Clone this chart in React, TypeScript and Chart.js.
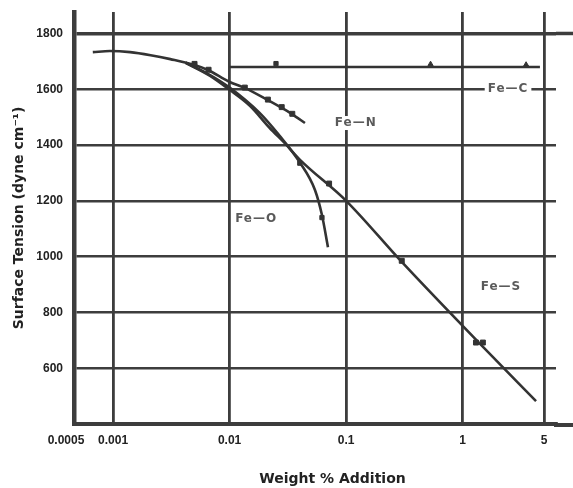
import React, { useEffect, useRef } from 'react';
import { Chart, registerables } from 'chart.js';

Chart.register(...registerables);

// ---- axis ticks ----
const xTickValues = [0.0005, 0.001, 0.01, 0.1, 1, 5];
const xTickLabels = ['0.0005\u2002\u2002\u2002\u2002', '0.001', '0.01', '0.1', '1', '5'];
const yTickValues = [600, 800, 1000, 1200, 1400, 1600, 1800];

// ---- Fe-N ----
const feNCurveX = [0.00067, 0.00094, 0.0014, 0.0021, 0.0031, 0.005, 0.0065, 0.0099, 0.0136, 0.0213, 0.0281, 0.0343, 0.0443];
const feNCurveY = [1733, 1737, 1733, 1722, 1708, 1687, 1669, 1627, 1604, 1561, 1533, 1511, 1479];
const feNPointX = [0.005, 0.0066, 0.0135, 0.0213, 0.028, 0.0345];
const feNPointY = [1691, 1670, 1606, 1563, 1536, 1512];

// ---- Fe-S ----
const feSCurveX = [0.0042, 0.0068, 0.01, 0.015, 0.022, 0.03, 0.04, 0.1, 0.3, 1.41, 4.26];
const feSCurveY = [1695, 1648, 1598, 1540, 1462, 1405, 1348, 1200, 981, 687, 482];
const feSPointX = [0.0714, 0.3, 1.3, 1.49];
const feSPointY = [1262, 985, 692, 692];

// ---- Fe-O ----
const feOCurveX = [0.0042, 0.0068, 0.01, 0.018, 0.027, 0.04, 0.054, 0.062, 0.0698];
const feOCurveY = [1695, 1651, 1606, 1516, 1432, 1338, 1239, 1149, 1034];
const feOPointX = [0.04, 0.062];
const feOPointY = [1335, 1140];

// ---- Fe-C ----
const feCCurveX = [0.01, 4.6];
const feCCurveY = [1680, 1680];
const feCPointX = [0.025, 0.53, 3.5];
const feCPointY = [1692, 1690, 1688];
const feCPointStyles = ['rect', 'triangle', 'triangle'];

// ---- curve labels (anchored in data space) ----
const seriesLabelText = ['Fe\u2014C', 'Fe\u2014N', 'Fe\u2014O', 'Fe\u2014S'];
const seriesLabelX = [2.45, 0.121, 0.0169, 2.13];
const seriesLabelY = [1600, 1479, 1135, 891];

const zip = (xs: number[], ys: number[]) => xs.map((x, i) => ({ x, y: ys[i] }));

const INK = '#333333';
const GRID = '#3d3d3d';
const TITLE_FONT = '"DejaVu Sans", "Liberation Sans", sans-serif';

export default function App() {
  const ref = useRef<HTMLCanvasElement | null>(null);

  useEffect(() => {
    if (!ref.current) return;
    Chart.defaults.font.family = '"Liberation Sans", Arial, sans-serif';

    const lineDs = (label: string, xs: number[], ys: number[]) => ({
      label,
      data: zip(xs, ys),
      showLine: true,
      borderColor: INK,
      borderWidth: 2.6,
      pointRadius: 0,
      cubicInterpolationMode: 'monotone' as const,
      fill: false,
    });
    const pointDs = (label: string, xs: number[], ys: number[], style: any, r: number) => ({
      label,
      data: zip(xs, ys),
      showLine: false,
      pointStyle: style,
      pointRadius: r,
      backgroundColor: INK,
      borderColor: INK,
      borderWidth: 1,
    });

    const labelPlugin = {
      id: 'seriesLabels',
      afterDatasetsDraw(chart: any) {
        const { ctx, scales } = chart;
        ctx.save();
        ctx.font = 'bold 12px "DejaVu Sans", sans-serif';
        try { (ctx as any).letterSpacing = '1px'; } catch (e) { /* ignore */ }
        ctx.textAlign = 'center';
        ctx.textBaseline = 'middle';
        seriesLabelText.forEach((t, i) => {
          const px = scales.x.getPixelForValue(seriesLabelX[i]);
          const py = scales.y.getPixelForValue(seriesLabelY[i]);
          const w = ctx.measureText(t).width;
          ctx.fillStyle = '#ffffff';
          ctx.fillRect(px - w / 2 - 3, py - 7, w + 6, 14);
          ctx.fillStyle = '#5a5a5a';
          ctx.fillText(t, px, py);
        });
        ctx.restore();
      },
    };

    const extendPlugin = {
      id: 'extendLines',
      afterDraw(chart: any) {
        const { ctx, chartArea, scales, width } = chart;
        ctx.save();
        ctx.strokeStyle = GRID;
        const yTop = scales.y.getPixelForValue(yTickValues[yTickValues.length - 1]);
        ctx.lineWidth = 3.5;
        ctx.beginPath();
        ctx.moveTo(chartArea.right, yTop);
        ctx.lineTo(width, yTop);
        ctx.stroke();
        ctx.lineWidth = 4;
        ctx.beginPath();
        ctx.moveTo(chartArea.right - 2, chartArea.bottom + 1);
        ctx.lineTo(width, chartArea.bottom + 1);
        ctx.stroke();
        ctx.restore();
      },
    };

    const chart = new Chart(ref.current, {
      type: 'scatter',
      data: {
        datasets: [
          lineDs('Fe-N', feNCurveX, feNCurveY),
          pointDs('Fe-N pts', feNPointX, feNPointY, 'rect', 3.5),
          lineDs('Fe-S', feSCurveX, feSCurveY),
          pointDs('Fe-S pts', feSPointX, feSPointY, 'rect', 3.5),
          lineDs('Fe-O', feOCurveX, feOCurveY),
          pointDs('Fe-O pts', feOPointX, feOPointY, 'rect', 3),
          lineDs('Fe-C', feCCurveX, feCCurveY),
          pointDs('Fe-C pts', feCPointX, feCPointY, feCPointStyles, 3),
        ] as any,
      },
      options: {
        animation: false,
        responsive: false,
        maintainAspectRatio: false,
        layout: { padding: { top: 12, right: 17, left: 0, bottom: 0 } },
        plugins: {
          legend: { display: false },
          tooltip: { enabled: false },
        },
        scales: {
          x: {
            type: 'logarithmic',
            min: 0.000462,
            max: 6.32,
            afterBuildTicks: (s: any) => {
              s.ticks = xTickValues.map((v) => ({ value: v }));
            },
            afterFit: (s: any) => {
              s.height = 64;
              s.paddingLeft = 0;
              s.paddingRight = 0;
            },
            grid: {
              drawTicks: false,
              color: (c: any) => (c.tick && c.tick.value === xTickValues[0] ? 'rgba(0,0,0,0)' : GRID),
              lineWidth: 2.8,
            },
            border: { display: true, color: GRID, width: 4 },
            ticks: {
              autoSkip: false,
              maxRotation: 0,
              minRotation: 0,
              padding: 9,
              color: '#222',
              font: { size: 12, weight: 'bold' },
              callback: (v: any) => {
                const i = xTickValues.indexOf(Number(v));
                return i >= 0 ? xTickLabels[i] : '';
              },
            },
            title: {
              display: true,
              text: '\u2003\u2003\u2002Weight % Addition',
              color: '#222',
              font: { size: 14, weight: 'bold', family: TITLE_FONT },
              padding: { top: 0, bottom: 0 },
            },
          },
          y: {
            type: 'linear',
            min: 400,
            max: 1877,
            afterBuildTicks: (s: any) => {
              s.ticks = yTickValues.map((v) => ({ value: v }));
            },
            afterFit: (s: any) => {
              s.width = 74;
              s.paddingTop = 0;
              s.paddingBottom = 0;
            },
            grid: {
              drawTicks: false,
              color: GRID,
              lineWidth: (c: any) => (c.tick && c.tick.value === 1800 ? 3.5 : 2.6),
            },
            border: { display: true, color: GRID, width: 4.5 },
            ticks: {
              padding: 11,
              color: '#222',
              font: { size: 12, weight: 'bold' },
              callback: (v: any) => String(v),
            },
            title: {
              display: true,
              text: 'Surface Tension (dyne cm\u207B\u00B9)',
              color: '#222',
              font: { size: 14, weight: 'bold', family: TITLE_FONT },
              padding: { top: 11, bottom: 0 },
            },
          },
        },
      } as any,
      plugins: [labelPlugin, extendPlugin],
    });

    return () => chart.destroy();
  }, []);

  return (
    <div style={{ position: 'fixed', left: 0, top: 0, width: 573, height: 488, background: '#fff' }}>
      <canvas ref={ref} width={573} height={488} style={{ display: 'block', width: 573, height: 488 }} />
    </div>
  );
}
